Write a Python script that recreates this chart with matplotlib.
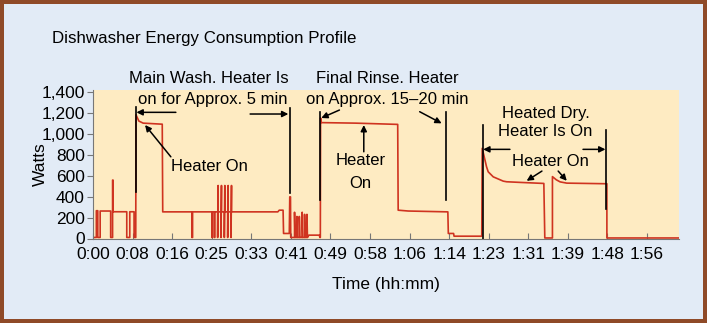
import matplotlib
matplotlib.use("Agg")
import matplotlib.pyplot as plt

plt.rcParams['font.family'] = ['Liberation Sans', 'DejaVu Sans']

# power trace, minutes vs watts
minutes = [0.0, 0.7, 0.7, 1.0, 1.0, 1.5, 1.5, 3.7, 3.7, 4.1, 4.1, 4.2, 4.2, 7.07, 7.07, 7.7, 7.7, 8.6, 8.6,
           8.95, 9.0, 9.6, 10.5, 14.5, 14.6, 20.7, 20.7, 20.85, 20.85, 24.9, 24.9, 25.0, 25.0, 25.4, 25.4, 25.5, 25.5,
           26.1, 26.1, 26.2, 26.2, 26.8, 26.8, 26.9, 26.9, 27.5, 27.5, 27.6, 27.6, 28.2, 28.2, 28.3, 28.3,
           28.9, 28.9, 29.0, 29.0, 38.7, 39.0, 39.8, 39.9, 41.1, 41.2, 41.35, 41.4,
           42.2, 42.2, 42.3, 42.7, 42.7, 42.8, 43.2, 43.2, 43.3, 43.8, 43.8, 43.9, 44.3, 44.3, 44.4,
           44.8, 44.8, 44.9, 45.2, 47.4, 47.5, 47.6, 47.65, 47.8, 55.0, 63.8, 63.9, 66.0, 74.3, 74.4, 75.5, 75.6,
           81.4, 81.5, 82.4, 82.75, 83.8, 85.9, 86.6, 89.4, 94.4, 94.6, 96.2, 96.2, 97.0, 97.8, 99.2, 107.6,
           107.6, 122.7]
watts = [10, 10, 265, 265, 10, 10, 262, 262, 10, 10, 557, 557, 255, 255, 10, 10, 255, 255, 10,
         10, 1180, 1120, 1100, 1090, 254, 254, 10, 10, 254, 254, 10, 10, 254, 254, 10, 10, 254,
         254, 10, 505, 254, 254, 10, 505, 254, 254, 10, 505, 254, 254, 10, 505, 254,
         254, 10, 505, 254, 254, 270, 270, 48, 48, 397, 397, 10,
         10, 250, 10, 10, 210, 10, 10, 210, 10, 10, 250, 10, 10, 230, 10,
         10, 230, 10, 32, 32, 10, 10, 1150, 1105, 1100, 1088, 270, 262, 254, 48, 48, 22,
         22, 860, 684, 636, 588, 547, 541, 535, 525, 5, 5, 590, 560, 540, 528, 522,
         5, 5]

tick_pos = [0, 8.286, 16.571, 24.857, 33.143, 41.429, 49.714, 58.0, 66.286, 74.571, 82.857, 91.143, 99.429,
            107.714, 116.0]
tick_labels = ['0:00', '0:08', '0:16', '0:25', '0:33', '0:41', '0:49', '0:58', '1:06', '1:14', '1:23',
               '1:31', '1:39', '1:48', '1:56']
y_ticks = [0, 200, 400, 600, 800, 1000, 1200, 1400]
y_labels = ['0', '200', '400', '600', '800', '1,000', '1,200', '1,400']

fig = plt.figure(figsize=(7.07, 3.23), dpi=100)
fig.patch.set_facecolor('#E2EBF6')
fig.patch.set_edgecolor('#8F4A28')
fig.patch.set_linewidth(4.5)

ax = fig.add_axes([93 / 707, (323 - 238.5) / 323, (679 - 93) / 707, (238.5 - 90) / 323])
ax.set_facecolor('#FEEBC2')
ax.plot(minutes, watts, color='#CF3320', lw=1.2)
ax.set_xlim(0, 122.7)
ax.set_ylim(0, 1416)

ax.set_xticks(tick_pos)
ax.set_xticklabels(tick_labels, fontsize=12.5)
ax.set_yticks(y_ticks)
ax.set_yticklabels(y_labels, fontsize=12.5)
ax.tick_params(axis='x', direction='in', length=4, color='#777777', pad=6)
ax.tick_params(axis='y', direction='out', length=4, color='#777777', pad=2)
for s in ['top', 'right']:
    ax.spines[s].set_visible(False)
ax.spines['left'].set_color('#777777')
ax.spines['bottom'].set_color('#777777')

ax.set_ylabel('Watts', fontsize=12.5, labelpad=-5)
ax.set_xlabel('Time (hh:mm)', fontsize=12.5, labelpad=11)
fig.text(52 / 707, 1 - 38 / 323, 'Dishwasher Energy Consumption Profile', fontsize=12.2, va='center', ha='left')

# annotation marks
k = dict(color='black', lw=1.2, clip_on=False)
ax.plot([9.0, 9.0], [445, 1257], **k)
ax.plot([41.3, 41.3], [430, 1241], **k)
ax.plot([47.6, 47.6], [366, 1209], **k)
ax.plot([73.9, 73.9], [366, 1209], **k)
ax.plot([81.6, 81.6], [0, 1080], **k)
ax.plot([107.4, 107.4], [286, 1034], **k)

ap = dict(arrowstyle='-|>', color='black', lw=1.1, mutation_scale=9, shrinkA=0, shrinkB=0)
arrows = [((17.35, 1203), (9.1, 1203)), ((32.9, 1187), (40.9, 1187)),
          ((16.3, 779), (10.9, 1082)), ((51.6, 1225), (47.8, 1149)),
          ((68.4, 1209), (73.0, 1098)), ((56.7, 827), (56.7, 1082)),
          ((87.3, 850), (81.7, 850)), ((102.6, 850), (107.3, 850)),
          ((94.0, 643), (90.8, 550)), ((97.4, 643), (99.2, 550))]
for a, b in arrows:
    ax.annotate('', xy=b, xytext=a, arrowprops=ap, annotation_clip=False)

tk = dict(fontsize=12, ha='center', va='center', clip_on=False)
ax.text(24.3, 1521, 'Main Wash. Heater Is', **tk)
ax.text(25.0, 1321, 'on for Approx. 5 min', **tk)
ax.text(61.7, 1521, 'Final Rinse. Heater', **tk)
ax.text(61.7, 1321, 'on Approx. 15\u201320 min', **tk)
ax.text(24.3, 690, 'Heater On', **tk)
ax.text(56.0, 748, 'Heater', **tk)
ax.text(56.0, 528, 'On', **tk)
ax.text(94.9, 1194, 'Heated Dry.', **tk)
ax.text(94.65, 1018, 'Heater Is On', **tk)
ax.text(95.7, 731, 'Heater On', **tk)

fig.savefig('out.png', dpi=100)
